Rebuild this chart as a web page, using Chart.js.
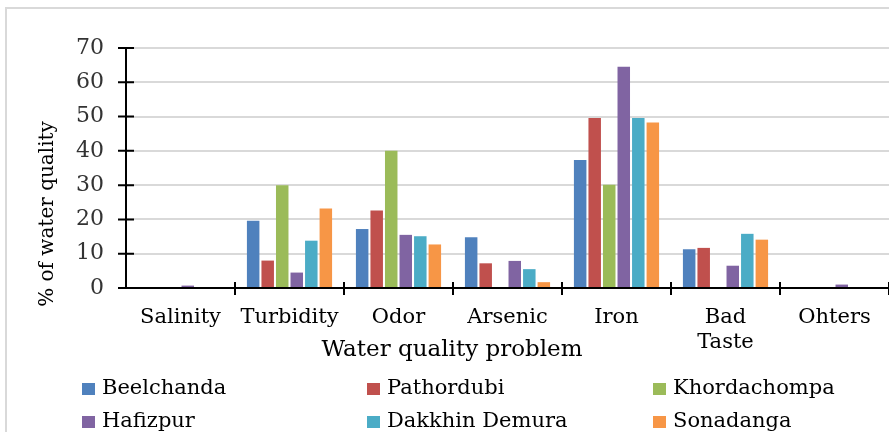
<!DOCTYPE html>
<html>
<head>
<meta charset="utf-8">
<script src="https://cdn.jsdelivr.net/npm/chart.js@4/dist/chart.umd.min.js"></script>
<style>
  html, body { margin: 0; padding: 0; background: #fff; }
  canvas { display: block; }
</style>
</head>
<body>
<canvas id="waterChart" width="889" height="432"></canvas>
<script>
// Water quality problems by village
const categories = ['Salinity', 'Turbidity', 'Odor', 'Arsenic', 'Iron', ['Bad', 'Taste'], 'Ohters'];
const seriesNames = ['Beelchanda', 'Pathordubi', 'Khordachompa', 'Hafizpur', 'Dakkhin Demura', 'Sonadanga'];
const beelchanda = [0, 19.6, 17.2, 14.8, 37.3, 11.3, 0];
const pathordubi = [0, 8.0, 22.6, 7.2, 49.6, 11.7, 0];
const khordachompa = [0, 30.0, 40.0, 0, 30.1, 0, 0];
const hafizpur = [0.7, 4.5, 15.5, 7.9, 64.5, 6.5, 1.0];
const dakkhinDemura = [0, 13.8, 15.1, 5.5, 49.6, 15.8, 0];
const sonadanga = [0, 23.2, 12.7, 1.7, 48.3, 14.1, 0];
const yTicks = [0, 10, 20, 30, 40, 50, 60, 70];

const colors = ['#4F81BD', '#C0504D', '#9BBB59', '#8064A2', '#4BACC6', '#F79646'];
const seriesValues = [beelchanda, pathordubi, khordachompa, hafizpur, dakkhinDemura, sonadanga];
const serif = '"DejaVu Serif", serif';

// frame, axis lines, crossing ticks, titles and the 3-column legend
const excelLook = {
  id: 'excelLook',
  beforeDraw(chart) {
    const { ctx } = chart;
    ctx.save();
    ctx.strokeStyle = '#d9d9d9';
    ctx.lineWidth = 2;
    ctx.beginPath();
    ctx.moveTo(6, 440);
    ctx.lineTo(6, 8);
    ctx.lineTo(900, 8);
    ctx.stroke();
    ctx.restore();
  },
  afterDraw(chart) {
    const { ctx, chartArea: { left, right, top, bottom } } = chart;
    const x = chart.scales.x;
    const y = chart.scales.y;
    ctx.save();
    ctx.strokeStyle = '#000';
    ctx.lineWidth = 2;

    // axis lines
    ctx.beginPath();
    ctx.moveTo(left, y.getPixelForValue(0));
    ctx.lineTo(right, y.getPixelForValue(0));
    ctx.moveTo(left, top - 1);
    ctx.lineTo(left, bottom);
    ctx.stroke();

    // y ticks crossing the axis
    ctx.beginPath();
    yTicks.forEach(v => {
      const py = y.getPixelForValue(v);
      ctx.moveTo(left - 8, py);
      ctx.lineTo(left + 8, py);
    });
    // x ticks at category boundaries
    const step = x.getPixelForValue(1) - x.getPixelForValue(0);
    for (let i = 1; i <= categories.length; i++) {
      const px = x.getPixelForValue(i) - step / 2;
      ctx.moveTo(px, bottom - 6);
      ctx.lineTo(px, bottom + 7);
    }
    ctx.stroke();

    // axis titles
    ctx.fillStyle = '#000';
    ctx.font = '23px ' + serif;
    ctx.textAlign = 'center';
    ctx.textBaseline = 'middle';
    ctx.fillText('Water quality problem', 452, 350);

    ctx.save();
    ctx.translate(48, 214);
    ctx.rotate(-Math.PI / 2);
    ctx.font = '20px ' + serif;
    ctx.fillText('% of water quality', 0, 0);
    ctx.restore();

    // legend
    const colX = [82, 367, 653];
    const rowY = [389, 422];
    ctx.font = '21px ' + serif;
    ctx.textAlign = 'left';
    chart.data.datasets.forEach((ds, i) => {
      const cx = colX[i % 3];
      const cy = rowY[Math.floor(i / 3)];
      ctx.fillStyle = ds.backgroundColor;
      ctx.fillRect(cx, cy - 6, 13, 12);
      ctx.fillStyle = '#000';
      ctx.fillText(ds.label, cx + 20, cy);
    });
    ctx.restore();
  }
};

new Chart(document.getElementById('waterChart').getContext('2d'), {
  type: 'bar',
  data: {
    labels: categories,
    datasets: seriesNames.map((name, i) => ({
      label: name,
      data: seriesValues[i],
      backgroundColor: colors[i],
      borderWidth: 0,
      categoryPercentage: 0.8,
      barPercentage: 0.86
    }))
  },
  options: {
    responsive: false,
    animation: false,
    layout: { padding: { top: 48, left: 0, right: 0, bottom: 0 } },
    plugins: {
      legend: { display: false },
      tooltip: { enabled: false }
    },
    scales: {
      x: {
        grid: { display: false },
        border: { display: false },
        ticks: {
          color: '#000',
          font: { family: serif, size: 21, lineHeight: 1.2 },
          padding: 9,
          maxRotation: 0,
          autoSkip: false
        },
        afterFit(scale) { scale.height = 144; }
      },
      y: {
        min: 0,
        max: 70,
        grid: { color: '#d9d9d9', lineWidth: 2, drawTicks: false },
        border: { display: false },
        ticks: {
          stepSize: 10,
          color: '#333',
          font: { family: serif, size: 22 },
          padding: 22
        },
        afterFit(scale) { scale.width = 126; }
      }
    }
  },
  plugins: [excelLook]
});
</script>
</body>
</html>
